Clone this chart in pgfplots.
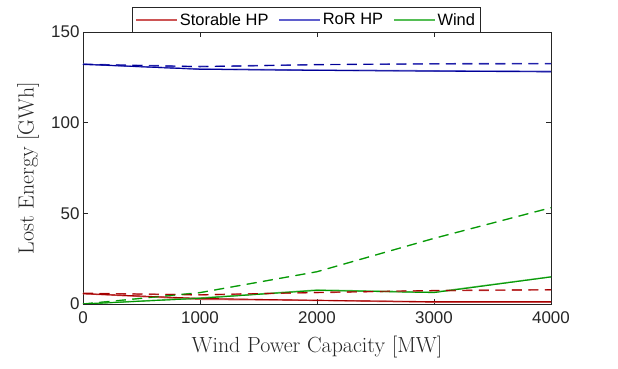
\documentclass[border=0pt]{standalone}
\usepackage{pgfplots}
\pgfplotsset{compat=1.18}
\usepackage{fontspec}
\newfontfamily\arialfont{Liberation Sans}
\definecolor{lred}{RGB}{205,85,85}
\definecolor{dred}{RGB}{165,0,0}
\definecolor{lblue}{RGB}{95,95,205}
\definecolor{dblue}{RGB}{0,0,150}
\definecolor{lgreen}{RGB}{85,190,85}
\definecolor{dgreen}{RGB}{0,150,0}
\definecolor{axgray}{RGB}{38,38,38}
\begin{document}
\begin{tikzpicture}
\begin{axis}[
  width=468bp, height=272bp, scale only axis,
  xmin=0, xmax=4000, ymin=0, ymax=150,
  xtick={0,1000,2000,3000,4000}, ytick={0,50,100,150},
  scaled x ticks=false,
  /pgf/number format/assume math mode=true,
  /pgf/number format/1000 sep={},
  tick label style={font=\arialfont\fontsize{17}{20}\selectfont, text=axgray},
  xticklabel style={yshift=-4bp},
  axis line style={axgray, line width=0.6bp},
  major tick style={axgray, line width=0.6bp}, major tick length=5bp,
  tick align=inside,
  xlabel={Wind Power Capacity [MW]}, ylabel={Lost Energy [GWh]},
  label style={font=\fontsize{22}{26}\selectfont, text=axgray},
  xlabel style={at={(axis description cs:0.5,-0.158)}, anchor=center},
  ylabel style={at={(axis description cs:-0.117,0.5)}, anchor=center},
  legend style={at={(axis description cs:0.477,1.044)}, anchor=center,
    legend columns=3, draw=axgray, fill=white, line width=0.6bp,
    inner ysep=4bp,
    font=\arialfont\fontsize{16.5}{20}\selectfont,
    /tikz/every even column/.append style={column sep=8bp}},
  legend image code/.code={\draw[#1] (0bp,0bp) -- (41bp,0bp);},
  dashpat/.style={dash pattern=on 10bp off 6.5bp},
]
% light solid lines (legend)
\addplot[lred, line width=1.4bp] coordinates {(0,5.7) (1000,2.6) (2000,2.0) (3000,1.0) (4000,1.0)};
\addlegendentry{Storable HP}
\addplot[lblue, line width=1.4bp] coordinates {(0,132.2) (1000,129.6) (2000,129.0) (3000,128.6) (4000,128.3)};
\addlegendentry{RoR HP}
\addplot[lgreen, line width=1.4bp] coordinates {(0,0) (1000,3.3) (2000,7.7) (3000,6.5) (4000,15.0)};
\addlegendentry{Wind}
% light dashed
\addplot[lred, line width=1.4bp, dashpat, forget plot] coordinates {(0,5.9) (1000,5.0) (2000,6.3) (3000,7.3) (4000,7.8)};
\addplot[lblue, line width=1.4bp, dashpat, forget plot] coordinates {(0,132.2) (1000,131.0) (2000,132.0) (3000,132.5) (4000,132.6)};
\addplot[lgreen, line width=1.4bp, dashpat, forget plot] coordinates {(0,0) (1000,6.3) (2000,17.8) (3000,36.2) (4000,53.1)};
% dark solid
\addplot[dred, line width=0.9bp, forget plot] coordinates {(0,5.7) (1000,3.1) (2000,2.0) (3000,1.3) (4000,1.3)};
\addplot[dblue, line width=0.9bp, forget plot] coordinates {(0,132.2) (1000,129.4) (2000,128.8) (3000,128.4) (4000,128.0)};
\addplot[dgreen, line width=0.9bp, forget plot] coordinates {(0,0) (1000,3.1) (2000,7.5) (3000,6.25) (4000,14.9)};
% dark dashed
\addplot[dred, line width=0.9bp, dashpat, forget plot] coordinates {(0,5.9) (1000,5.1) (2000,6.4) (3000,7.5) (4000,7.9)};
\addplot[dblue, line width=0.9bp, dashpat, forget plot] coordinates {(0,132.2) (1000,130.8) (2000,132.0) (3000,132.4) (4000,132.5)};
\addplot[dgreen, line width=0.9bp, dashpat, forget plot] coordinates {(0,0) (1000,6.25) (2000,17.8) (3000,36.2) (4000,53.1)};
\end{axis}
\pgfresetboundingbox
\path (current axis.south west) ++(-83bp,-65bp) rectangle ++(618bp,369bp);
\end{tikzpicture}
\end{document}
